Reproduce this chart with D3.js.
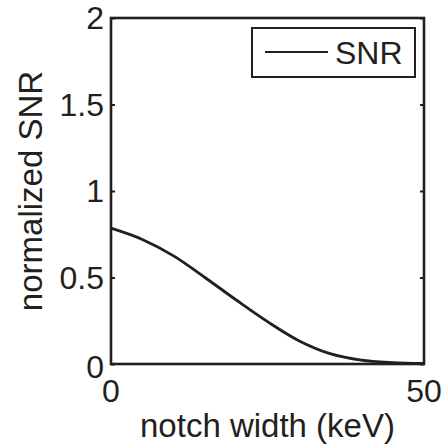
<!DOCTYPE html>
<html>
	<head>
		<title></title>
		<style>
			body { margin: 0; background: #fff; }
			text { font-family: "Liberation Sans", Arial, sans-serif; fill: #231f20; }
		</style>
	</head>
	<body>
	<div id="chart"></div>
		<script src="https://cdn.jsdelivr.net/npm/d3@7"></script>

		<script>
			// notch width (keV) and normalized SNR
			var notchWidth = [0, 5, 10, 15, 20, 25, 30, 35, 40, 45, 50];
			var snr = [0.785, 0.72, 0.625, 0.50, 0.37, 0.245, 0.135, 0.06, 0.022, 0.008, 0.003];
			var xTicks = [0, 50];
			var yTicks = [0, 0.5, 1, 1.5, 2];
			var seriesName = 'SNR';

			var W = 444, H = 445;
			var pLeft = 111, pTop = 18, pRight = 424, pBottom = 364;
			var ink = '#231f20';

			var svg = d3.select('#chart').append('svg').attr('width', W).attr('height', H);

			var x = d3.scaleLinear().domain([0, 50]).range([pLeft, pRight]);
			var y = d3.scaleLinear().domain([0, 2]).range([pBottom, pTop]);

			// ticks pointing inwards, left and right
			svg.append('g').attr('transform', 'translate(' + pLeft + ',0)')
				.call(d3.axisRight(y).tickValues(yTicks).tickSize(4).tickFormat(''))
				.call(function(g){ g.select('.domain').remove(); g.selectAll('line').attr('stroke', ink).attr('stroke-width', 2); });
			svg.append('g').attr('transform', 'translate(' + pRight + ',0)')
				.call(d3.axisLeft(y).tickValues(yTicks).tickSize(4).tickFormat(''))
				.call(function(g){ g.select('.domain').remove(); g.selectAll('line').attr('stroke', ink).attr('stroke-width', 2); });

			// tick labels
			svg.selectAll('.ylab').data(yTicks).enter().append('text')
				.attr('x', pLeft - 7).attr('y', function(d){ return y(d) + (d === 0 ? 3 : 0); })
				.attr('dy', '0.35em').attr('text-anchor', 'end')
				.style('font-size', '32px')
				.text(function(d){ return d; });
			svg.selectAll('.xlab').data(xTicks).enter().append('text')
				.attr('x', function(d){ return x(d); }).attr('y', 402)
				.attr('text-anchor', 'middle')
				.style('font-size', '32px')
				.text(function(d){ return d; });

			// curve
			var line = d3.line()
				.x(function(d, i){ return x(notchWidth[i]); })
				.y(function(d){ return y(d); })
				.curve(d3.curveCatmullRom);
			svg.append('path').datum(snr).attr('d', line)
				.attr('fill', 'none').attr('stroke', ink).attr('stroke-width', 2.8);

			// box
			svg.append('rect').attr('x', pLeft).attr('y', pTop)
				.attr('width', pRight - pLeft).attr('height', pBottom - pTop)
				.attr('fill', 'none').attr('stroke', ink).attr('stroke-width', 2.6);

			// axis titles
			svg.append('text').attr('x', (pLeft + pRight) / 2).attr('y', 437)
				.attr('text-anchor', 'middle').style('font-size', '33px')
				.text('notch width (keV)');
			svg.append('text')
				.attr('transform', 'translate(42,' + (pTop + pBottom) / 2 + ') rotate(-90)')
				.attr('text-anchor', 'middle').style('font-size', '33px')
				.text('normalized SNR');

			// legend
			svg.append('rect').attr('x', 252).attr('y', 28).attr('width', 163).attr('height', 49)
				.attr('fill', '#fff').attr('stroke', ink).attr('stroke-width', 2);
			svg.append('line').attr('x1', 265).attr('x2', 328).attr('y1', 52).attr('y2', 52)
				.attr('stroke', ink).attr('stroke-width', 2);
			svg.append('text').attr('x', 335).attr('y', 64)
				.style('font-size', '32px').text(seriesName);
		</script>
	</body>
</html>
